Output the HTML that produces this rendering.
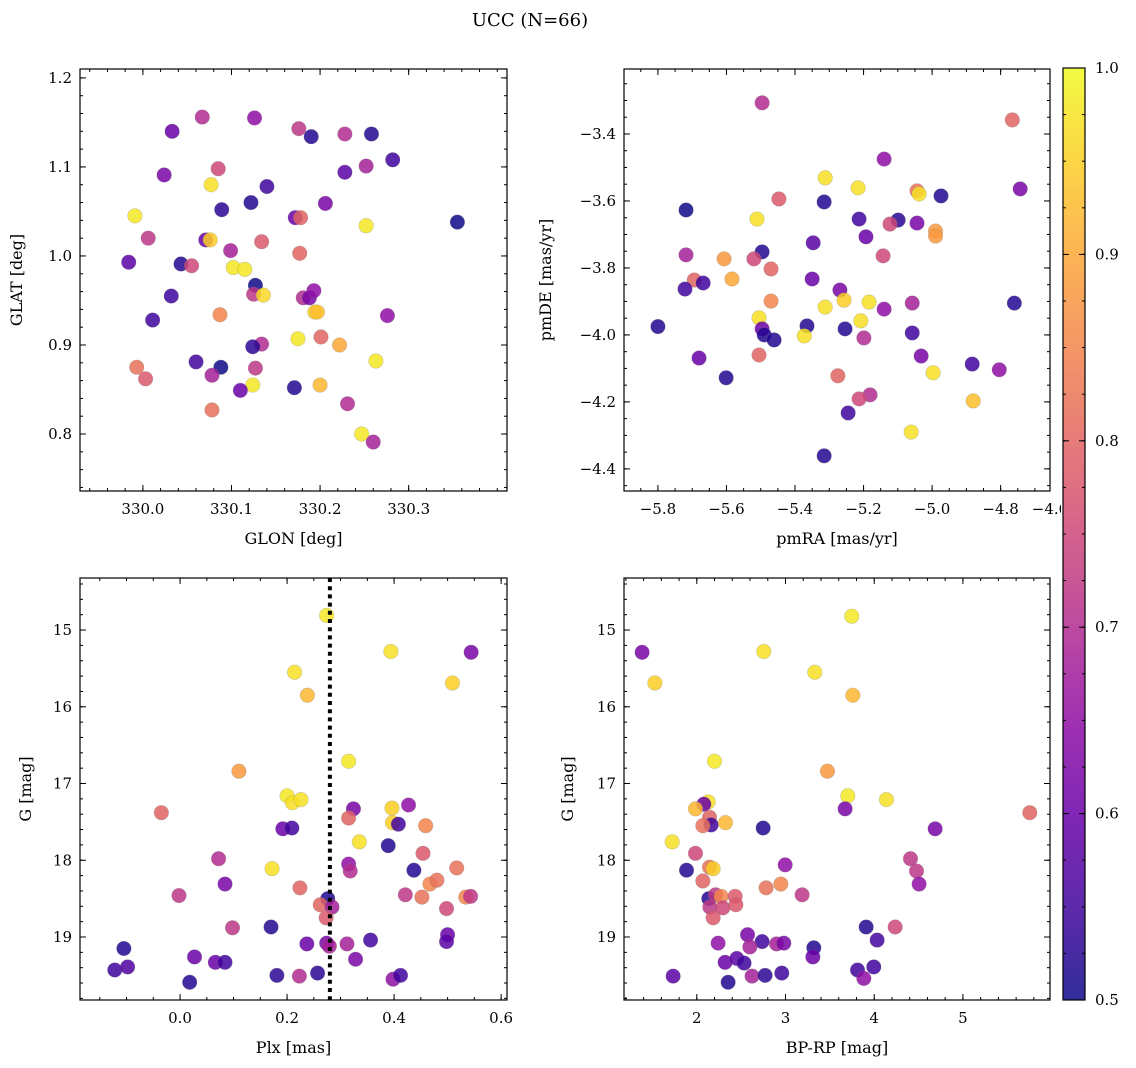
<!DOCTYPE html>
<html><head><meta charset="utf-8">
<style>
body{margin:0;background:#fff;}
svg{display:block;font-family:"DejaVu Serif","Liberation Serif",serif;}
</style></head>
<body>
<svg id="fig" width="1136" height="1068" viewBox="0 0 1136 1068" xmlns="http://www.w3.org/2000/svg">
<text x="530" y="26" font-size="18" text-anchor="middle">UCC (N=66)</text>
</svg>
<script>
// ---- Panel 1: GLON / GLAT ----
const glon=[330.033,330.067,330.126,330.176,330.190,330.228,330.258,330.282,330.252,330.228,330.024,330.085,330.077,330.140,330.206,330.122,330.089,329.991,330.172,330.178,330.252,330.355,330.006,330.071,330.076,330.134,330.099,330.177,329.984,330.043,330.055,330.102,330.115,330.127,330.125,330.136,330.181,330.188,330.193,330.032,330.194,330.197,330.087,330.276,330.011,330.175,330.201,330.222,330.134,330.124,330.263,330.060,330.088,329.993,330.127,330.078,330.003,330.124,330.171,330.200,330.110,330.078,330.231,330.247,330.260];
const glat=[1.140,1.156,1.155,1.143,1.134,1.137,1.137,1.108,1.101,1.094,1.091,1.098,1.080,1.078,1.059,1.060,1.052,1.045,1.043,1.043,1.034,1.038,1.020,1.018,1.018,1.016,1.006,1.003,0.993,0.991,0.989,0.987,0.985,0.967,0.957,0.956,0.953,0.953,0.961,0.955,0.937,0.937,0.934,0.933,0.928,0.907,0.909,0.900,0.901,0.898,0.882,0.881,0.875,0.875,0.874,0.866,0.862,0.855,0.852,0.855,0.849,0.827,0.834,0.800,0.791];
const prob1=[0.6,0.7,0.65,0.72,0.52,0.7,0.52,0.55,0.68,0.58,0.62,0.75,0.97,0.55,0.62,0.52,0.53,0.98,0.6,0.8,0.98,0.5,0.72,0.6,0.95,0.78,0.68,0.8,0.58,0.52,0.75,0.98,0.98,0.5,0.72,0.96,0.7,0.62,0.65,0.55,0.95,0.93,0.85,0.65,0.55,0.98,0.8,0.9,0.7,0.53,0.98,0.55,0.5,0.82,0.72,0.68,0.78,0.98,0.52,0.92,0.6,0.82,0.7,0.98,0.68];
// ---- Panel 2: pmRA / pmDE ----
const pmra=[-5.496,-4.766,-5.140,-5.312,-5.216,-4.743,-5.044,-5.038,-4.974,-5.447,-5.315,-5.718,-5.099,-5.213,-5.511,-5.044,-5.123,-4.990,-4.990,-5.193,-5.347,-5.718,-5.143,-5.496,-5.607,-5.520,-5.470,-5.694,-5.584,-5.668,-5.350,-5.721,-5.269,-5.140,-5.470,-5.257,-5.184,-5.312,-5.058,-4.760,-5.505,-5.208,-5.365,-5.800,-5.496,-5.254,-5.058,-5.373,-5.490,-5.461,-5.199,-5.032,-5.680,-5.505,-4.883,-4.804,-4.997,-5.601,-5.275,-5.181,-5.213,-4.880,-5.245,-5.061,-5.315];
const pmde=[-3.307,-3.358,-3.475,-3.531,-3.561,-3.564,-3.570,-3.579,-3.585,-3.594,-3.603,-3.627,-3.657,-3.654,-3.654,-3.666,-3.669,-3.690,-3.705,-3.707,-3.725,-3.761,-3.764,-3.752,-3.773,-3.773,-3.803,-3.836,-3.833,-3.845,-3.833,-3.863,-3.866,-3.923,-3.899,-3.896,-3.902,-3.917,-3.905,-3.905,-3.949,-3.958,-3.973,-3.975,-3.982,-3.982,-3.994,-4.003,-4.000,-4.015,-4.009,-4.063,-4.069,-4.060,-4.087,-4.104,-4.113,-4.128,-4.122,-4.179,-4.191,-4.197,-4.233,-4.290,-4.361];
const prob2=[0.7,0.8,0.65,0.97,0.97,0.62,0.82,0.97,0.52,0.78,0.52,0.5,0.53,0.55,0.97,0.62,0.75,0.88,0.88,0.6,0.58,0.68,0.75,0.52,0.88,0.75,0.8,0.8,0.9,0.55,0.6,0.55,0.62,0.65,0.85,0.95,0.97,0.97,0.68,0.52,0.97,0.97,0.52,0.52,0.6,0.52,0.55,0.97,0.52,0.52,0.7,0.62,0.6,0.8,0.55,0.65,0.97,0.52,0.8,0.7,0.75,0.93,0.55,0.97,0.52];
// ---- Panel 3: Plx / G ----
const plx=[0.274,0.394,0.544,0.214,0.509,0.238,0.315,0.110,-0.035,0.200,0.210,0.226,0.324,0.315,0.396,0.427,0.397,0.408,0.459,0.192,0.209,0.335,0.389,0.454,0.072,0.315,0.318,0.172,0.437,0.517,0.084,0.467,0.480,-0.002,0.224,0.421,0.452,0.534,0.543,0.498,0.276,0.262,0.284,0.273,0.098,0.170,0.500,0.498,-0.105,0.237,0.274,0.279,0.312,0.356,0.027,0.328,-0.122,-0.098,0.066,0.084,0.018,0.181,0.223,0.257,0.398,0.412];
const gmag3=[14.81,15.28,15.29,15.55,15.69,15.85,16.71,16.84,17.38,17.16,17.25,17.21,17.33,17.45,17.32,17.28,17.51,17.53,17.55,17.59,17.58,17.76,17.81,17.91,17.98,18.05,18.14,18.11,18.13,18.10,18.31,18.31,18.26,18.46,18.36,18.45,18.48,18.48,18.47,18.63,18.50,18.58,18.61,18.75,18.88,18.87,18.97,19.06,19.15,19.09,19.08,19.12,19.09,19.04,19.26,19.29,19.43,19.39,19.33,19.33,19.59,19.50,19.51,19.47,19.55,19.50];
const prob3=[0.98,0.97,0.62,0.97,0.95,0.92,0.98,0.88,0.8,0.98,0.97,0.97,0.62,0.8,0.95,0.65,0.95,0.55,0.85,0.6,0.55,0.97,0.52,0.78,0.7,0.65,0.7,0.97,0.52,0.82,0.62,0.85,0.82,0.72,0.8,0.72,0.82,0.85,0.72,0.75,0.52,0.8,0.68,0.78,0.72,0.52,0.6,0.58,0.52,0.6,0.62,0.68,0.68,0.55,0.6,0.62,0.55,0.57,0.6,0.55,0.52,0.53,0.7,0.53,0.65,0.55];
const plxRef=0.28;
// ---- Panel 4: BP-RP / G ----
const bprp=[1.383,1.527,3.747,2.755,3.330,3.759,2.199,3.473,5.754,3.702,4.138,3.672,2.128,2.079,1.985,2.143,2.161,2.068,2.323,2.748,4.687,1.722,1.985,1.884,2.143,2.184,2.996,4.409,4.477,4.506,2.068,2.781,2.947,3.187,2.135,2.211,2.274,2.432,2.147,2.293,2.440,2.184,3.909,4.236,2.572,2.736,2.240,2.598,2.899,2.981,4.033,3.319,3.308,2.319,2.451,2.533,3.812,3.995,3.883,1.733,2.353,2.623,2.770,2.958];
const gmag4=[15.29,15.69,14.82,15.28,15.55,15.85,16.71,16.84,17.38,17.16,17.21,17.33,17.24,17.27,17.33,17.44,17.54,17.55,17.51,17.58,17.59,17.76,17.91,18.13,18.09,18.11,18.06,17.98,18.14,18.31,18.27,18.36,18.31,18.45,18.50,18.45,18.47,18.47,18.61,18.62,18.58,18.75,18.87,18.87,18.97,19.06,19.08,19.13,19.09,19.08,19.04,19.14,19.26,19.33,19.28,19.34,19.43,19.39,19.54,19.51,19.59,19.51,19.50,19.47];
const prob4=[0.62,0.95,0.98,0.97,0.97,0.92,0.98,0.88,0.8,0.98,0.97,0.62,0.97,0.6,0.92,0.8,0.55,0.82,0.92,0.52,0.62,0.97,0.75,0.52,0.82,0.95,0.65,0.72,0.72,0.65,0.8,0.82,0.85,0.72,0.52,0.72,0.85,0.78,0.72,0.75,0.78,0.78,0.52,0.75,0.62,0.55,0.65,0.68,0.68,0.62,0.55,0.52,0.6,0.6,0.58,0.55,0.55,0.55,0.65,0.58,0.52,0.68,0.53,0.55];
// ---- Colorbar ----
const cbTicks=[0.5,0.6,0.7,0.8,0.9,1.0];

const NS="http://www.w3.org/2000/svg";
const svg=document.getElementById('fig');
function mk(tag,attrs,parent){const e=document.createElementNS(NS,tag);for(const k in attrs)e.setAttribute(k,attrs[k]);(parent||svg).appendChild(e);return e;}
const plasmaStops=[[0.0,[13,8,135]],[0.1,[65,4,157]],[0.2,[106,0,168]],[0.3,[143,13,164]],[0.4,[177,42,144]],[0.5,[204,71,120]],[0.6,[225,100,98]],[0.7,[242,132,75]],[0.8,[252,166,54]],[0.9,[252,206,37]],[1.0,[240,249,33]]];
function plasma(t){t=Math.max(0,Math.min(1,t));for(let i=1;i<plasmaStops.length;i++){if(t<=plasmaStops[i][0]){const a=plasmaStops[i-1],b=plasmaStops[i];const f=(t-a[0])/(b[0]-a[0]);const c=a[1].map((v,j)=>Math.round(v+(b[1][j]-v)*f));return `rgb(${c})`;}}return 'rgb(240,249,33)';}
function cnorm(v){return (v-0.5)/0.5;}

function panel(o){
  const g=mk('g',{});
  
  
  const X=v=>o.x0+(v-o.xmin)/(o.xmax-o.xmin)*(o.x1-o.x0);
  const Y=o.yinv? v=>o.y0+(v-o.ymin)/(o.ymax-o.ymin)*(o.y1-o.y0) : v=>o.y1-(v-o.ymin)/(o.ymax-o.ymin)*(o.y1-o.y0);
  const pg=mk('g',{},g);
  
  
  for(let i=0;i<o.xs.length;i++){
    const c=mk('circle',{cx:X(o.xs[i]),cy:Y(o.ys[i]),r:7.3,fill:plasma(cnorm(o.cs[i])),'fill-opacity':0.85,stroke:'#777','stroke-opacity':0.35,'stroke-width':0.6},pg);
    
    
  }
  if(o.vline!==undefined){
    const l=mk('line',{x1:X(o.vline),x2:X(o.vline),y1:o.y0,y2:o.y1,stroke:'#000','stroke-width':4,'stroke-dasharray':'4 4.2'},g);
    
    
  }
  const tk=mk('g',{stroke:'#000','stroke-width':1},g);
  const eps=1e-9;
  function ticks(min,max,step){const a=[];let s=Math.ceil((min-eps)/step);for(let v=s*step;v<=max+eps;v+=step)a.push(+v.toFixed(6));return a;}
  for(const v of ticks(o.xmin,o.xmax,o.xminor)){const x=X(v);mk('line',{x1:x,x2:x,y1:o.y1,y2:o.y1-3},tk);mk('line',{x1:x,x2:x,y1:o.y0,y2:o.y0+3},tk);}
  for(const v of ticks(o.ymin,o.ymax,o.yminor)){const y=Y(v);mk('line',{x1:o.x0,x2:o.x0+3,y1:y,y2:y},tk);mk('line',{x1:o.x1,x2:o.x1-3,y1:y,y2:y},tk);}
  for(const v of o.xticks){const x=X(v);mk('line',{x1:x,x2:x,y1:o.y1,y2:o.y1-6},tk);mk('line',{x1:x,x2:x,y1:o.y0,y2:o.y0+6},tk);
    const t=mk('text',{x:x,y:o.y1+23,'font-size':15,'text-anchor':'middle'},g);t.textContent=o.xfmt(v);
    
    }
  for(const v of o.yticks){const y=Y(v);mk('line',{x1:o.x0,x2:o.x0+6,y1:y,y2:y},tk);mk('line',{x1:o.x1,x2:o.x1-6,y1:y,y2:y},tk);
    const t=mk('text',{x:o.x0-8,y:y+5,'font-size':15,'text-anchor':'end'},g);t.textContent=o.yfmt(v);
    
    }
  const fr=mk('rect',{x:o.x0,y:o.y0,width:o.x1-o.x0,height:o.y1-o.y0,fill:'none',stroke:'#000','stroke-width':1.2},g);
  
  
  const xl=mk('text',{x:(o.x0+o.x1)/2,y:o.y1+53,'font-size':16,'text-anchor':'middle'},g);xl.textContent=o.xlabel;
  
  
  const yx=o.ylabx, yy=(o.y0+o.y1)/2;
  const yl=mk('text',{x:yx,y:yy,'font-size':16,'text-anchor':'middle',transform:`rotate(-90 ${yx} ${yy})`},g);yl.textContent=o.ylabel;
  
  
}
const minus=s=>s.replace('-','\u2212');
panel({name:'glon-glat-panel',x0:80,x1:507,y0:69,y1:491,xmin:329.929,xmax:330.411,ymin:0.736,ymax:1.210,
  xs:glon,ys:glat,cs:prob1,xticks:[330.0,330.1,330.2,330.3],yticks:[0.8,0.9,1.0,1.1,1.2],xminor:0.02,yminor:0.02,
  xfmt:v=>v.toFixed(1),yfmt:v=>v.toFixed(1),xlabel:'GLON [deg]',ylabel:'GLAT [deg]',ylabx:22});
panel({name:'pm-panel',x0:624,x1:1050,y0:69,y1:491,xmin:-5.899,xmax:-4.656,ymin:-4.466,ymax:-3.206,
  xs:pmra,ys:pmde,cs:prob2,xticks:[-5.8,-5.6,-5.4,-5.2,-5.0,-4.8],yticks:[-4.4,-4.2,-4.0,-3.8,-3.6,-3.4],xminor:0.05,yminor:0.05,
  xfmt:v=>minus(v.toFixed(1)),yfmt:v=>minus(v.toFixed(1)),xlabel:'pmRA [mas/yr]',ylabel:'pmDE [mas/yr]',ylabx:551});
panel({name:'plx-g-panel',x0:80,x1:507,y0:578,y1:1000,xmin:-0.187,xmax:0.611,ymin:14.322,ymax:19.821,yinv:true,
  xs:plx,ys:gmag3,cs:prob3,vline:plxRef,xticks:[0.0,0.2,0.4,0.6],yticks:[15,16,17,18,19],xminor:0.05,yminor:0.2,
  xfmt:v=>v.toFixed(1),yfmt:v=>String(v),xlabel:'Plx [mas]',ylabel:'G [mag]',ylabx:31});
panel({name:'color-magnitude-panel',x0:624,x1:1050,y0:578,y1:1000,xmin:1.179,xmax:5.982,ymin:14.322,ymax:19.821,yinv:true,
  xs:bprp,ys:gmag4,cs:prob4,xticks:[2,3,4,5],yticks:[15,16,17,18,19],xminor:0.2,yminor:0.2,
  xfmt:v=>String(v),yfmt:v=>String(v),xlabel:'BP-RP [mag]',ylabel:'G [mag]',ylabx:573});
(function(){
  const x0=1063,x1=1085,y0=68,y1=1000;
  mk('rect',{x:1052,y:500,width:84,height:20,fill:'#fff'});
  const defs=mk('defs',{});
  const lg=mk('linearGradient',{id:'cbg',x1:0,y1:1,x2:0,y2:0},defs);
  for(let i=0;i<=20;i++){mk('stop',{offset:i/20,'stop-color':plasma(i/20)},lg);}
  mk('rect',{x:x0,y:y0,width:x1-x0,height:y1-y0,fill:'#fff'});
  const r=mk('rect',{x:x0,y:y0,width:x1-x0,height:y1-y0,fill:'url(#cbg)','fill-opacity':0.85,stroke:'#000','stroke-width':1.2});
  
  
  const Y=v=>y1-(v-0.5)/0.5*(y1-y0);
  for(let v=0.5;v<=1.0001;v+=0.025){const y=Y(v);mk('line',{x1:x1,x2:x1-3,y1:y,y2:y,stroke:'#000'});mk('line',{x1:x0,x2:x0+3,y1:y,y2:y,stroke:'#000'});}
  for(const v of cbTicks){const y=Y(v);mk('line',{x1:x1,x2:x1-6,y1:y,y2:y,stroke:'#000'});mk('line',{x1:x0,x2:x0+6,y1:y,y2:y,stroke:'#000'});
    const t=mk('text',{x:x1+10,y:y+5,'font-size':15});t.textContent=v.toFixed(1);
    
    }
  const cp=mk('clipPath',{id:'cl46'},defs);mk('rect',{x:1030,y:498,width:31,height:24},cp);
  const t2=mk('text',{x:1050,y:514,'font-size':15,'text-anchor':'middle','clip-path':'url(#cl46)'});t2.textContent='\u22124.6';
  
  
})();
</script>
</body></html>
